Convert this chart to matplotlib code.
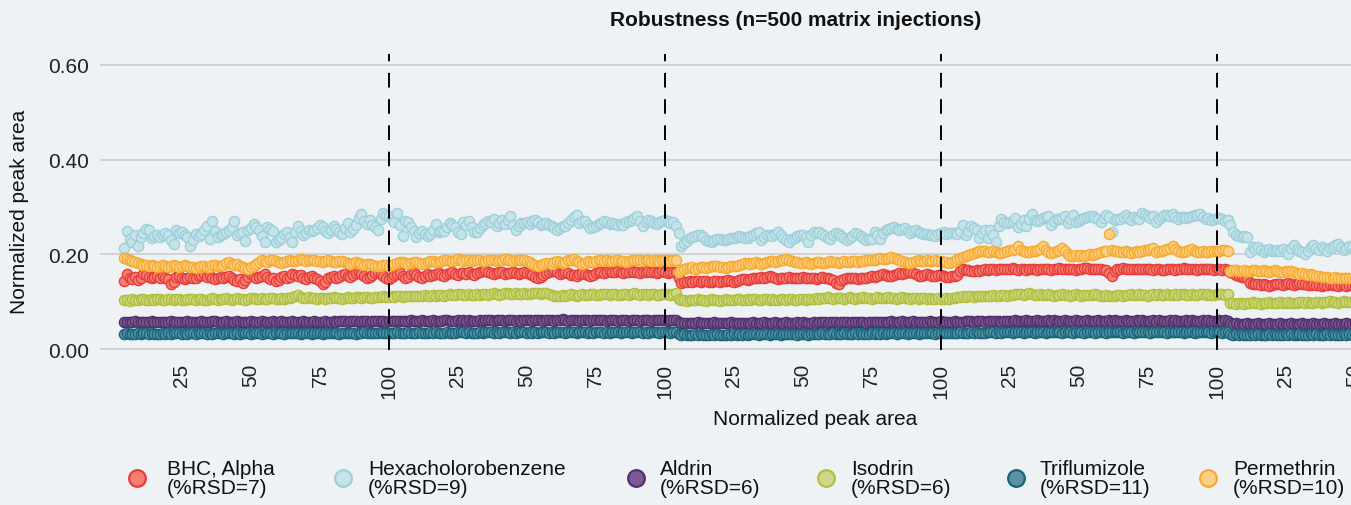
import numpy as np
import matplotlib.pyplot as plt
from matplotlib.lines import Line2D

plt.rcParams['font.family'] = ['Liberation Sans', 'DejaVu Sans']

# normalized peak area x 1000, one value per injection, starting at injection 4
first_injection = 4

bhc_alpha = [
    143, 159, 150, 148, 152, 145, 149, 159, 156, 152, 150, 153, 155, 151, 154, 150, 148, 137, 142, 152, 155, 150, 147, 149, 153,
    151, 150, 154, 156, 158, 152, 155, 150, 148, 151, 153, 150, 152, 155, 151, 146, 143, 147, 140, 145, 152, 159, 154, 150, 152,
    155, 158, 152, 148, 150, 143, 146, 152, 155, 150, 153, 158, 157, 154, 156, 150, 148, 152, 154, 150, 147, 144, 138, 142, 150,
    152, 155, 150, 152, 156, 158, 155, 153, 157, 160, 163, 158, 154, 150, 152, 156, 160, 163, 158, 154, 150, 148, 152, 157, 158,
    160, 155, 149, 152, 158, 160, 156, 153, 150, 155, 158, 154, 156, 159, 160, 157, 155, 158, 160, 162, 158, 157, 160, 161, 159,
    162, 158, 157, 160, 163, 165, 166, 162, 160, 158, 161, 163, 162, 158, 160, 161, 163, 160, 159, 161, 162, 160, 158, 156, 153,
    150, 153, 157, 160, 162, 164, 166, 162, 159, 160, 162, 160, 157, 156, 155, 158, 160, 158, 156, 155, 157, 160, 162, 163, 161,
    163, 164, 162, 163, 164, 162, 161, 163, 162, 164, 163, 162, 160, 162, 163, 164, 163, 162, 161, 163, 164, 162, 161, 163, 162,
    163, 149, 140, 142, 141, 143, 142, 144, 143, 142, 144, 143, 142, 141, 143, 144, 142, 143, 144, 145, 143, 142, 144, 146, 148,
    147, 146, 148, 150, 149, 151, 153, 150, 152, 155, 153, 150, 148, 149, 151, 150, 152, 150, 149, 150, 151, 152, 150, 149, 151,
    150, 148, 150, 152, 151, 149, 147, 145, 140, 138, 145, 148, 150, 149, 151, 150, 148, 149, 151, 150, 152, 154, 153, 155, 156,
    158, 157, 155, 154, 156, 158, 160, 159, 161, 162, 163, 160, 158, 155, 154, 156, 158, 157, 155, 154, 156, 157, 155, 153, 152,
    154, 155, 157, 165, 169, 167, 166, 165, 164, 166, 165, 167, 168, 166, 168, 169, 167, 169, 170, 169, 168, 170, 171, 168, 167,
    168, 169, 167, 168, 170, 169, 167, 168, 169, 170, 168, 167, 169, 170, 171, 170, 168, 169, 170, 169, 167, 168, 170, 171, 172,
    170, 169, 168, 170, 169, 167, 166, 160, 155, 165, 168, 170, 171, 170, 168, 169, 170, 169, 168, 169, 170, 169, 168, 167, 169,
    168, 166, 167, 168, 170, 169, 167, 168, 170, 171, 169, 168, 170, 169, 167, 168, 169, 170, 169, 168, 167, 169, 168, 167, 168,
    167, 163, 160, 157, 155, 153, 152, 150, 140, 138, 137, 138, 136, 137, 135, 134, 136, 137, 138, 137, 136, 138, 139, 137, 136,
    137, 139, 138, 137, 136, 135, 137, 136, 135, 134, 136, 135, 137, 136, 135, 134, 135, 136, 134, 135, 136, 135, 134, 135, 136,
]

hexachlorobenzene = [
    214, 250, 232, 225, 240, 218, 236, 244, 253, 252, 235, 238, 240, 236, 240, 244, 240, 231, 222, 252, 245, 247, 241, 236, 218,
    230, 243, 238, 243, 252, 259, 232, 271, 250, 236, 240, 243, 247, 252, 258, 271, 240, 244, 247, 229, 252, 255, 264, 258, 252,
    238, 225, 257, 254, 250, 225, 230, 235, 242, 247, 236, 225, 248, 259, 250, 240, 246, 252, 249, 252, 256, 262, 258, 250, 245,
    252, 259, 254, 248, 243, 256, 266, 247, 254, 262, 276, 285, 271, 265, 273, 262, 258, 252, 274, 287, 282, 280, 275, 268, 287,
    262, 238, 270, 268, 258, 250, 236, 244, 250, 242, 238, 243, 252, 264, 247, 250, 250, 258, 266, 262, 257, 248, 242, 268, 262,
    270, 258, 247, 247, 255, 262, 266, 271, 268, 274, 260, 266, 273, 264, 272, 280, 262, 252, 260, 266, 266, 269, 264, 270, 273,
    268, 262, 264, 266, 262, 259, 256, 252, 255, 260, 260, 266, 273, 278, 283, 267, 270, 271, 262, 255, 258, 260, 263, 266, 271,
    268, 264, 266, 265, 262, 264, 262, 268, 270, 273, 277, 281, 270, 260, 268, 273, 270, 266, 265, 269, 271, 273, 270, 266, 269,
    259, 246, 217, 224, 229, 234, 236, 238, 240, 241, 236, 231, 229, 227, 230, 232, 233, 230, 231, 233, 234, 234, 236, 238, 236,
    234, 234, 238, 241, 244, 248, 231, 236, 241, 240, 238, 243, 248, 240, 234, 230, 227, 232, 234, 238, 241, 241, 236, 227, 240,
    248, 246, 248, 243, 238, 235, 232, 240, 245, 242, 238, 234, 231, 235, 239, 245, 242, 239, 235, 231, 233, 232, 248, 240, 232,
    245, 252, 253, 255, 257, 254, 252, 253, 255, 250, 246, 249, 252, 248, 245, 243, 242, 241, 240, 238, 242, 245, 248, 243, 244,
    245, 244, 243, 250, 262, 241, 250, 259, 255, 252, 234, 245, 252, 234, 252, 240, 227, 259, 274, 268, 266, 268, 270, 277, 257,
    265, 272, 259, 275, 286, 272, 270, 273, 277, 279, 281, 262, 270, 274, 274, 277, 281, 266, 275, 283, 268, 270, 274, 276, 279,
    280, 281, 276, 274, 269, 276, 283, 278, 248, 272, 274, 274, 279, 283, 276, 272, 279, 277, 274, 288, 284, 281, 276, 281, 269,
    274, 278, 284, 282, 280, 286, 279, 274, 278, 279, 276, 278, 281, 283, 284, 286, 279, 274, 276, 272, 274, 276, 276, 274, 270,
    272, 262, 248, 240, 238, 236, 238, 237, 205, 216, 212, 215, 210, 205, 210, 212, 208, 206, 210, 207, 212, 205, 201, 213, 220,
    212, 208, 204, 200, 208, 215, 220, 214, 210, 216, 212, 208, 213, 216, 219, 222, 216, 210, 214, 218, 215, 212, 216, 218, 214,
]

aldrin = [
    57, 58, 57, 58, 59, 58, 57, 58, 57, 58, 59, 58, 57, 58, 58, 57, 58, 59, 58, 57, 58, 57, 58, 59, 58,
    58, 57, 58, 59, 58, 57, 58, 59, 60, 58, 57, 58, 59, 58, 57, 58, 59, 58, 58, 57, 58, 59, 58, 57, 58,
    59, 58, 57, 58, 59, 58, 57, 59, 58, 57, 58, 59, 58, 57, 58, 59, 58, 57, 58, 59, 58, 57, 58, 59, 58,
    58, 59, 58, 59, 60, 59, 58, 59, 60, 59, 58, 59, 60, 59, 58, 59, 60, 59, 60, 59, 58, 59, 60, 59, 60,
    59, 60, 59, 60, 61, 60, 59, 60, 61, 60, 59, 60, 61, 60, 59, 60, 61, 62, 60, 59, 60, 61, 60, 61, 60,
    61, 60, 59, 60, 61, 60, 61, 62, 61, 60, 61, 62, 61, 60, 61, 62, 61, 60, 61, 60, 61, 62, 61, 60, 61,
    62, 61, 60, 61, 62, 61, 60, 61, 62, 63, 61, 60, 61, 62, 61, 60, 61, 62, 61, 60, 61, 62, 61, 62, 61,
    60, 61, 62, 61, 60, 61, 62, 61, 60, 61, 62, 61, 60, 61, 62, 61, 60, 61, 62, 61, 62, 61, 60, 61, 62,
    61, 57, 55, 56, 55, 56, 55, 56, 57, 56, 55, 56, 55, 56, 57, 56, 55, 56, 55, 56, 57, 56, 55, 56, 55,
    56, 55, 56, 57, 56, 55, 56, 57, 56, 55, 56, 57, 56, 55, 56, 57, 56, 55, 56, 57, 56, 57, 56, 55, 56,
    57, 56, 57, 58, 57, 56, 57, 58, 57, 56, 57, 58, 57, 56, 57, 58, 57, 58, 57, 56, 57, 58, 57, 58, 57,
    58, 57, 58, 59, 58, 57, 58, 59, 58, 57, 58, 59, 58, 57, 58, 57, 58, 59, 58, 57, 58, 59, 58, 57, 58,
    58, 59, 58, 57, 58, 59, 60, 59, 58, 59, 60, 59, 58, 59, 60, 59, 60, 59, 58, 59, 60, 59, 60, 61, 60,
    59, 60, 61, 60, 59, 60, 61, 60, 59, 60, 61, 60, 61, 60, 59, 60, 61, 60, 59, 60, 61, 60, 59, 60, 61,
    60, 59, 60, 61, 60, 59, 60, 61, 60, 61, 60, 59, 60, 61, 60, 59, 60, 61, 60, 61, 60, 59, 60, 61, 60,
    61, 60, 59, 60, 61, 60, 61, 60, 59, 60, 61, 60, 61, 60, 59, 60, 61, 60, 61, 60, 59, 60, 61, 60, 61,
    60, 55, 53, 54, 53, 52, 53, 54, 53, 52, 53, 54, 53, 52, 53, 54, 53, 52, 53, 54, 53, 52, 53, 54, 53,
    52, 53, 54, 53, 52, 53, 54, 53, 52, 53, 54, 53, 52, 53, 54, 53, 52, 53, 54, 53, 52, 53, 54, 53, 52,
]

isodrin = [
    103, 104, 102, 105, 104, 103, 105, 106, 104, 103, 105, 104, 106, 105, 103, 104, 106, 105, 104, 106, 105, 104, 103, 105, 106,
    105, 104, 106, 105, 103, 104, 106, 107, 105, 104, 106, 105, 107, 106, 104, 105, 107, 106, 105, 104, 106, 108, 107, 105, 106,
    107, 106, 105, 107, 108, 106, 105, 107, 106, 108, 107, 109, 112, 114, 110, 108, 107, 109, 108, 107, 106, 108, 107, 106, 108,
    107, 109, 108, 107, 106, 108, 109, 107, 108, 110, 109, 108, 110, 109, 108, 107, 109, 110, 109, 111, 110, 109, 111, 110, 112,
    111, 110, 112, 111, 113, 112, 111, 113, 112, 114, 113, 112, 114, 113, 115, 114, 113, 115, 116, 114, 115, 117, 116, 115, 114,
    116, 115, 114, 116, 115, 117, 116, 115, 117, 118, 116, 115, 117, 119, 118, 116, 117, 118, 116, 117, 118, 117, 116, 118, 119,
    118, 117, 119, 118, 116, 114, 112, 111, 113, 114, 113, 115, 116, 114, 113, 115, 116, 114, 115, 117, 116, 115, 114, 116, 117,
    116, 115, 117, 116, 114, 115, 117, 116, 115, 117, 118, 116, 115, 117, 116, 115, 116, 117, 115, 114, 116, 117, 116, 115, 117,
    118, 105, 103, 104, 102, 103, 104, 103, 105, 104, 103, 102, 104, 105, 103, 104, 102, 103, 105, 104, 103, 104, 106, 105, 104,
    103, 105, 104, 106, 105, 104, 103, 105, 106, 104, 105, 103, 104, 106, 105, 104, 106, 105, 103, 104, 106, 105, 104, 106, 105,
    106, 107, 105, 108, 107, 109, 108, 106, 107, 108, 107, 106, 108, 109, 107, 106, 108, 107, 109, 108, 107, 106, 108, 109, 107,
    108, 107, 109, 108, 107, 106, 108, 109, 107, 108, 106, 107, 108, 106, 107, 108, 106, 107, 105, 106, 107, 105, 106, 107, 106,
    107, 108, 109, 110, 111, 110, 112, 111, 110, 112, 111, 113, 112, 111, 113, 114, 112, 113, 115, 114, 113, 115, 114, 116, 117,
    116, 115, 117, 118, 116, 115, 114, 116, 115, 114, 116, 115, 113, 115, 114, 116, 115, 114, 113, 115, 116, 114, 113, 115, 114,
    115, 114, 116, 115, 113, 112, 114, 113, 112, 113, 114, 115, 113, 114, 115, 116, 114, 115, 116, 114, 115, 113, 114, 116, 115,
    116, 115, 114, 116, 115, 114, 116, 115, 117, 116, 114, 115, 116, 115, 114, 116, 117, 115, 116, 114, 115, 116, 117, 116, 115,
    117, 98, 97, 96, 98, 97, 96, 98, 97, 99, 98, 97, 96, 98, 97, 99, 98, 97, 98, 99, 97, 98, 99, 98, 97,
    98, 99, 100, 98, 99, 97, 98, 100, 99, 98, 100, 99, 101, 100, 99, 98, 100, 101, 100, 99, 100, 101, 100, 99, 100,
]

triflumizole = [
    32, 33, 32, 31, 32, 33, 32, 33, 34, 32, 33, 32, 31, 32, 33, 32, 33, 32, 33, 34, 33, 32, 33, 32, 33,
    33, 32, 33, 34, 33, 32, 33, 32, 33, 34, 33, 32, 33, 34, 33, 32, 33, 32, 33, 34, 33, 32, 33, 34, 33,
    32, 33, 34, 33, 32, 33, 34, 33, 32, 33, 34, 33, 34, 33, 32, 33, 34, 33, 32, 33, 34, 33, 32, 33, 34,
    33, 34, 33, 32, 33, 34, 33, 34, 33, 32, 33, 34, 35, 34, 33, 34, 33, 34, 35, 34, 33, 34, 33, 34, 35,
    34, 33, 34, 35, 34, 33, 34, 35, 34, 33, 34, 35, 34, 35, 34, 33, 34, 35, 34, 33, 34, 35, 36, 35, 34,
    35, 34, 33, 34, 35, 34, 35, 36, 35, 34, 35, 34, 35, 36, 35, 34, 35, 34, 35, 36, 35, 34, 35, 34, 35,
    34, 35, 36, 35, 34, 35, 34, 35, 36, 35, 34, 35, 36, 35, 34, 35, 36, 35, 34, 35, 34, 35, 36, 35, 34,
    35, 34, 35, 36, 35, 34, 35, 36, 35, 34, 35, 36, 35, 34, 35, 34, 35, 36, 35, 34, 35, 36, 35, 34, 35,
    35, 31, 30, 31, 30, 29, 30, 31, 30, 31, 30, 29, 30, 31, 30, 31, 30, 29, 30, 31, 30, 31, 30, 31, 30,
    31, 30, 31, 32, 31, 30, 31, 32, 31, 30, 31, 32, 31, 30, 31, 32, 31, 32, 31, 30, 31, 32, 31, 30, 31,
    32, 31, 32, 33, 32, 31, 32, 33, 32, 31, 32, 33, 32, 31, 32, 33, 32, 33, 32, 31, 32, 33, 32, 33, 32,
    33, 32, 33, 34, 33, 32, 33, 34, 33, 32, 33, 34, 33, 32, 33, 34, 33, 34, 33, 32, 33, 34, 33, 34, 33,
    34, 33, 34, 35, 34, 33, 34, 35, 34, 35, 34, 33, 34, 35, 36, 35, 34, 35, 34, 35, 36, 35, 34, 35, 36,
    35, 34, 35, 36, 35, 34, 35, 36, 35, 34, 35, 36, 35, 36, 35, 34, 35, 36, 35, 34, 35, 36, 35, 34, 35,
    36, 35, 34, 35, 36, 35, 34, 35, 36, 35, 36, 35, 34, 35, 36, 35, 34, 35, 36, 37, 36, 35, 34, 35, 36,
    35, 36, 35, 34, 35, 36, 35, 36, 35, 34, 35, 36, 35, 34, 35, 36, 35, 36, 35, 34, 35, 36, 35, 34, 35,
    36, 31, 30, 31, 30, 31, 30, 29, 30, 31, 30, 31, 30, 29, 30, 31, 30, 31, 30, 29, 30, 31, 30, 31, 30,
    30, 31, 30, 29, 30, 31, 30, 31, 30, 29, 30, 31, 30, 31, 30, 29, 30, 31, 30, 31, 30, 29, 30, 31, 30,
]

permethrin = [
    192, 190, 188, 186, 184, 182, 180, 178, 177, 176, 178, 175, 174, 176, 177, 175, 174, 176, 178, 175, 173, 176, 178, 176, 174,
    173, 172, 174, 176, 175, 173, 174, 177, 178, 176, 175, 178, 181, 183, 180, 177, 179, 176, 174, 172, 170, 173, 176, 180, 184,
    187, 186, 184, 187, 188, 185, 183, 182, 184, 186, 188, 186, 185, 187, 190, 188, 186, 187, 189, 188, 186, 185, 184, 186, 187,
    185, 184, 183, 185, 186, 184, 182, 180, 181, 183, 182, 180, 178, 180, 179, 177, 176, 175, 176, 178, 177, 176, 178, 180, 182,
    184, 183, 181, 180, 182, 184, 183, 181, 180, 182, 184, 186, 185, 183, 184, 186, 188, 187, 185, 186, 188, 190, 187, 186, 188,
    187, 186, 188, 189, 187, 186, 185, 187, 189, 188, 186, 187, 189, 190, 188, 187, 186, 188, 189, 187, 188, 186, 184, 180, 177,
    175, 177, 180, 182, 181, 180, 183, 185, 184, 182, 184, 187, 189, 191, 186, 183, 180, 182, 185, 184, 183, 185, 187, 188, 186,
    187, 186, 185, 187, 188, 186, 185, 184, 186, 187, 188, 189, 187, 186, 188, 187, 186, 188, 187, 186, 188, 189, 187, 186, 188,
    187, 163, 166, 170, 172, 171, 173, 170, 172, 174, 173, 172, 174, 175, 176, 175, 174, 173, 172, 173, 175, 176, 175, 177, 180,
    182, 181, 180, 182, 183, 181, 180, 182, 184, 186, 185, 184, 186, 188, 189, 190, 187, 185, 184, 183, 182, 181, 183, 182, 180,
    181, 183, 184, 182, 181, 183, 185, 184, 183, 182, 184, 185, 184, 183, 186, 185, 184, 185, 186, 187, 188, 189, 188, 190, 192,
    191, 190, 193, 194, 192, 190, 188, 186, 184, 182, 181, 183, 185, 187, 186, 185, 187, 186, 185, 187, 186, 185, 183, 184, 182,
    183, 186, 190, 193, 195, 196, 198, 201, 203, 205, 206, 207, 207, 205, 204, 206, 205, 202, 203, 205, 207, 209, 210, 212, 218,
    210, 206, 204, 205, 207, 206, 209, 212, 217, 210, 205, 202, 204, 206, 209, 214, 208, 200, 197, 196, 198, 197, 199, 196, 198,
    200, 199, 201, 203, 205, 207, 206, 242, 210, 208, 206, 205, 204, 206, 205, 203, 204, 206, 205, 207, 209, 210, 211, 213, 204,
    206, 208, 210, 212, 213, 217, 211, 206, 204, 205, 208, 210, 211, 208, 205, 204, 206, 205, 204, 206, 207, 206, 208, 210, 209,
    207, 165, 166, 167, 165, 164, 166, 165, 164, 166, 167, 165, 164, 166, 165, 163, 164, 166, 165, 163, 162, 164, 165, 164, 162,
    160, 158, 160, 159, 157, 158, 156, 155, 154, 152, 153, 152, 151, 150, 152, 151, 149, 150, 151, 150, 149, 150, 151, 150, 149,
]

names = ['BHC, Alpha', 'Hexacholorobenzene', 'Aldrin', 'Isodrin', 'Triflumizole', 'Permethrin']
rsd = [7, 9, 6, 6, 11, 10]
series = [bhc_alpha, hexachlorobenzene, aldrin, isodrin, triflumizole, permethrin]
block_edges = [100, 200, 300, 400]

face = ['#f5806f', '#c5e3e9', '#7d5a92', '#cfd888', '#5a93a4', '#fdcf86']
edge = ['#e63c3c', '#9dd0da', '#51306d', '#b0c03c', '#17657a', '#f6ab30']
bg = '#eef2f5'

W, H = 1351, 506
fig = plt.figure(figsize=(W / 100, H / 100), dpi=100, facecolor=bg)
# axes run a little past the right edge of the picture, as in the original crop
ax = fig.add_axes([100 / W, (H - 351) / H, 1261 / W, 296 / H])
ax.set_facecolor(bg)

for vals, fc, ec in zip(series, face, edge):
    y = np.array(vals) / 1000
    x = np.arange(first_injection, first_injection + len(y))
    ax.scatter(x, y, s=54, c=fc, edgecolors=ec, linewidths=1.0, zorder=3)

for b in block_edges:
    ax.axvline(b, color='black', lw=1.4, ls=(0, (7.5, 6)), zorder=4)

ax.set_xlim(-4.7, 452.3)
ax.set_ylim(-0.002, 0.623)
ax.set_yticks([0, 0.2, 0.4, 0.6])
ax.set_yticklabels(['0.00', '0.20', '0.40', '0.60'])
xt = np.arange(25, 451, 25)
ax.set_xticks(xt)
ax.set_xticklabels([str((t - 1) % 100 + 1) for t in xt], rotation=90)
ax.grid(axis='y', color='#c9c9c9', lw=1.1)
ax.set_axisbelow(True)
for s in ax.spines.values():
    s.set_visible(False)
ax.tick_params(axis='both', length=0, labelsize=15, colors='#222222')
ax.tick_params(axis='y', pad=8)
ax.tick_params(axis='x', pad=9)

fig.text(796 / W, 1 - 20 / H, 'Robustness (n=500 matrix injections)', ha='center', va='center',
         fontsize=15, fontweight='bold', color='#111111')
fig.text(815 / W, 1 - 420 / H, 'Normalized peak area', ha='center', va='center', fontsize=15, color='#111111')
fig.text(20 / W, 1 - 212 / H, 'Normalized peak area', ha='center', va='center', rotation=90,
         fontsize=15, color='#111111')

# legend, laid out by hand
marker_x = [137, 343, 636, 826, 1016, 1208]
text_x = [167, 368, 660, 851, 1040, 1233]
for mx, tx, n, r, fc, ec in zip(marker_x, text_x, names, rsd, face, edge):
    fig.add_artist(Line2D([mx / W], [1 - 479 / H], marker='o', markersize=12, markerfacecolor=fc,
                          markeredgecolor=ec, markeredgewidth=1.6, transform=fig.transFigure))
    fig.text(tx / W, 1 - 479 / H, f'{n}\n(%RSD={r})', ha='left', va='center', fontsize=15,
             linespacing=1.05, color='#111111')

fig.savefig('out.png', dpi=100, facecolor=bg)
